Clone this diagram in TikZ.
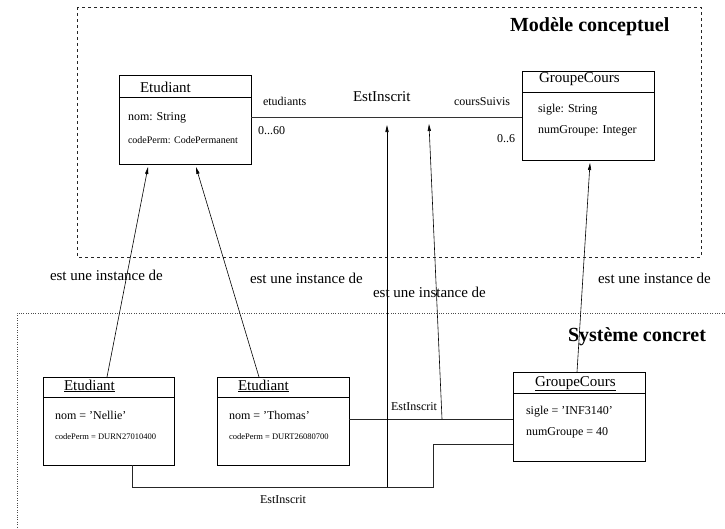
\documentclass[tikz,border=0pt]{standalone}
\usepackage{fontspec}
\setmainfont{Liberation Serif}
\usetikzlibrary{arrows.meta,calc}
\begin{document}
\begin{tikzpicture}[x=1pt,y=-1pt,
  every node/.style={inner sep=0pt, outer sep=0pt},
  box/.style={draw, rectangle, line width=0.7pt},
  lbl/.style={anchor=west},
  blbl/.style={anchor=base west},
  fT/.style={font=\fontsize{15}{17}\selectfont},
  fA/.style={font=\fontsize{12}{14}\selectfont},
  fS/.style={font=\fontsize{10}{12}\selectfont},
  fXS/.style={font=\fontsize{8.5}{10}\selectfont},
  fH/.style={font=\fontsize{20}{24}\selectfont\bfseries},
  frameA/.style={line width=0.6pt, dash pattern=on 3pt off 3pt, black!85},
  frameB/.style={line width=0.6pt, dash pattern=on 0.8pt off 1.6pt, black!70},
  assoc/.style={line width=0.9pt, black!80},
  linkln/.style={line width=0.8pt, black!85},
  arr/.style={line width=0.6pt, -{Triangle[length=7pt,width=3.2pt]}}]
\useasboundingbox (0,0) rectangle (725,528);

% frames
\draw[frameA] (77,7) rectangle (701,257);
\node[lbl,fH] (t1) at (510,27) {Modèle conceptuel};
\draw[frameB] (725,313) -- (17,313) -- (17,528);
\node[lbl,fH] (t2) at (568,337) {Système concret};

% class Etudiant
\node[box, minimum width=132pt, minimum height=89pt] (ce) at (185,119.5) {};
\draw[line width=0.7pt] ([yshift=-22pt]ce.north west) -- ([yshift=-22pt]ce.north east);
\node[lbl,fT] (ceT) at (140,87) {Etudiant};
\node[lbl,fA] (ceA1) at (128,118) {nom: String};
\node[lbl,fS] (ceA2) at (128,140) {codePerm: CodePermanent};

% class GroupeCours
\node[box, minimum width=132pt, minimum height=89pt] (cg) at (588,115.5) {};
\draw[line width=0.7pt] ([yshift=-21pt]cg.north west) -- ([yshift=-21pt]cg.north east);
\node[lbl,fT] (cgT) at (539,79) {GroupeCours};
\node[lbl,fA] (cgA1) at (538,110) {sigle: String};
\node[lbl,fA] (cgA2) at (538,131) {numGroupe: Integer};

% association
\coordinate (asY) at (0,117);
\draw[assoc] (ce.east |- asY) -- (cg.west |- asY);
\node[lbl,fT] (asN) at (353,97) {EstInscrit};
\node[lbl,fA] (r1) at (263,101) {etudiants};
\node[lbl,fA] (m1) at (258,131) {0...60};
\node[lbl,fA] (r2) at (454,102) {coursSuivis};
\node[lbl,fA] (m2) at (497,139) {0..6};

% object Etudiant Nellie
\node[box, minimum width=131pt, minimum height=88pt] (oe1) at (108.5,421) {};
\draw[line width=0.7pt] ([yshift=-20pt]oe1.north west) -- ([yshift=-20pt]oe1.north east);
\node[blbl,fT] (oe1T) at (64,390) {\underline{Etudiant}};
\node[lbl,fA] (oe1A1) at (55,415) {nom = 'Nellie'};
\node[lbl,fXS] (oe1A2) at (55,437) {codePerm = DURN27010400};

% object Etudiant Thomas
\node[box, minimum width=132pt, minimum height=88pt] (oe2) at (283,421) {};
\draw[line width=0.7pt] ([yshift=-20pt]oe2.north west) -- ([yshift=-20pt]oe2.north east);
\node[blbl,fT] (oe2T) at (238,390) {\underline{Etudiant}};
\node[lbl,fA] (oe2A1) at (229,415) {nom = 'Thomas'};
\node[lbl,fXS] (oe2A2) at (229,437) {codePerm = DURT26080700};

% object GroupeCours
\node[box, minimum width=132pt, minimum height=89pt] (og) at (579,416.5) {};
\draw[line width=0.7pt] ([yshift=-21pt]og.north west) -- ([yshift=-21pt]og.north east);
\node[blbl,fT] (ogT) at (535,386) {\underline{GroupeCours}};
\node[lbl,fA] (ogA1) at (526,412) {sigle = 'INF3140'};
\node[lbl,fA] (ogA2) at (526,433) {numGroupe = 40};

% links
\coordinate (lkA) at (0,419);
\draw[linkln] (oe2.east |- lkA) -- (og.west |- lkA);
\node[lbl,fA] (lkAN) at (391,407) {EstInscrit};
\coordinate (lkB1) at (0,487);
\coordinate (lkB2) at (433,444);
\draw[linkln] ([xshift=89pt]oe1.south west) |- (lkB2 |- lkB1) |- (og.west |- lkB2);
\node[lbl,fA] (lkBN) at (260,500) {EstInscrit};

% instance arrows
\draw[arr] ([xshift=64pt]oe1.north west) -- ([xshift=29pt,yshift=-3pt]ce.south west);
\draw[arr] ([xshift=42pt]oe2.north west) -- ([xshift=77pt,yshift=-3pt]ce.south west);
\draw[arr] ([xshift=64pt]og.north west) -- ([xshift=68pt,yshift=-3pt]cg.south west);
\coordinate (j1) at (387,487);
\coordinate (tipA) at (387,125);
\draw[arr] (j1) -- (tipA);
\coordinate (j2) at (442,419);
\coordinate (tipB) at (429,124);
\draw[arr] (j2) -- (tipB);

% labels
\node[lbl,fT] (e1) at (50,275) {est une instance de};
\node[lbl,fT] (e2) at (250,278) {est une instance de};
\node[lbl,fT] (e3) at (373,292) {est une instance de};
\node[lbl,fT] (e4) at (598,278) {est une instance de};
\end{tikzpicture}
\end{document}
